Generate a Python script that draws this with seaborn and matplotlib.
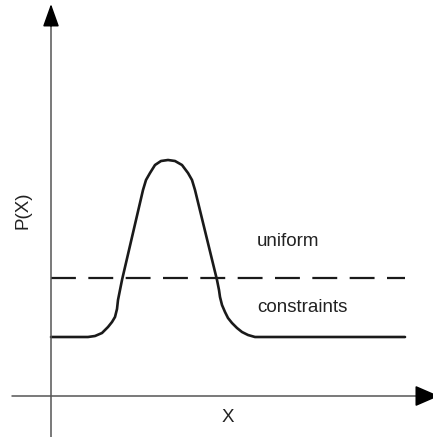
import numpy as np
import pandas as pd
import matplotlib
matplotlib.use("Agg")
import matplotlib.pyplot as plt
import seaborn as sb

# constraint curve P(X)
curve_x = [0, 37, 44, 51, 57, 61, 64, 66, 67, 69, 71, 92, 95, 99, 104, 110, 117, 124, 131, 137,
           141, 144, 166, 168, 169, 171, 174, 177, 181, 186, 191, 197, 204, 354]
curve_y = [59, 59, 60, 63, 69, 74, 79, 87, 96, 106, 116, 206, 216, 223, 231, 235, 236, 235, 231, 223,
           216, 206, 116, 106, 99, 91, 84, 78, 73, 68, 64, 61, 59, 59]

# uniform distribution
uniform_x = [0, 354]
uniform_y = [118, 118]

labels = ["uniform", "constraints"]
label_y = [154, 88]

#%% Plot

sb.set_style("white")
plt.rcParams['font.family'] = ['Liberation Sans', 'DejaVu Sans']

fig = plt.figure(figsize=(4.33, 4.37), dpi=100)
ax = fig.add_axes([0, 0, 1, 1])

df_c = pd.DataFrame({"x": curve_x, "P": curve_y})
df_u = pd.DataFrame({"x": uniform_x, "P": uniform_y})

sb.lineplot(data=df_c, x="x", y="P", sort=False, estimator=None, color="#1a1a1a",
            linewidth=1.9, ax=ax)
sb.lineplot(data=df_u, x="x", y="P", sort=False, estimator=None, color="#1a1a1a",
            linewidth=1.6, linestyle=(0, (11.2, 5.6)), ax=ax)
for ln in ax.lines:
    ln.set_solid_joinstyle("round")

# axes with arrow heads
ax.plot([0, 0], [-41, 375], color="#555555", linewidth=1.1)
ax.plot([-39, 372], [0, 0], color="#555555", linewidth=1.1)
ax.annotate("", xy=(0, 392), xytext=(0, 370), annotation_clip=False,
            arrowprops=dict(arrowstyle="-|>,head_length=1.4,head_width=0.5",
                            color="black", linewidth=1.1, shrinkA=0, shrinkB=0))
ax.annotate("", xy=(388, 0), xytext=(366, 0), annotation_clip=False,
            arrowprops=dict(arrowstyle="-|>,head_length=1.5,head_width=0.65",
                            color="black", linewidth=1.1, shrinkA=0, shrinkB=0))

for lab, yy in zip(labels, label_y):
    ax.text(206, yy, lab, fontsize=13.5, color="#222222", ha="left", va="center")

ax.text(177, -21, "X", fontsize=13.5, color="#222222", ha="center", va="center")
ax.text(-28, 186, "P(X)", fontsize=13.5, color="#222222", ha="center", va="center",
        rotation=90)

ax.set_xlim(-51, 382)
ax.set_ylim(-41, 396)
ax.set_axis_off()

fig.savefig("out.png", dpi=100)
